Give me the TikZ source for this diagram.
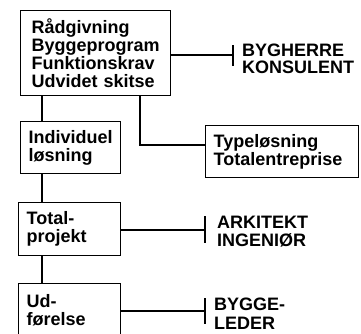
\documentclass[tikz,border=0pt]{standalone}
\usepackage{fontspec}
\setmainfont{Liberation Sans}
\tikzset{
  stage/.style={draw, line width=1.3pt, anchor=north west, align=left, inner xsep=8pt, inner ysep=0pt, font=\bfseries\fontsize{18}{18}\selectfont},
  actor/.style={anchor=west, align=left, inner sep=0pt, font=\bfseries\fontsize{18}{18}\selectfont},
  link/.style={line width=1.3pt}
}

\begin{document}
\begin{tikzpicture}[x=1pt,y=-1pt]
\useasboundingbox (0,0) rectangle (361,333);
\node[stage, inner xsep=11pt, text width=128pt, minimum height=85pt] (rad) at (20,10) {Rådgivning\\Byggeprogram\\Funktionskrav\\Udvidet skitse};
\node[stage, text width=84pt, minimum height=52pt] (ind) at (20,121) {Individuel\\løsning};
\node[stage, text width=137pt, minimum height=52pt] (type) at (205,125) {Typeløsning\\Totalentreprise};
\node[stage, text width=86pt, minimum height=53pt] (tot) at (18,202) {Total-\\projekt};
\node[stage, text width=86pt, minimum height=53pt] (udf) at (18,283) {Ud-\\førelse};
\coordinate (spine) at (42,0);
\coordinate (knee) at (140,145);
\coordinate (kons) at (233,55);
\coordinate (ark) at (205,230);
\coordinate (byg) at (205,311);
% main chain
\draw[link] (rad.south -| spine) -- (ind.north -| spine);
\draw[link] (ind.south -| spine) -- (tot.north -| spine);
\draw[link] (tot.south -| spine) -- (udf.north -| spine);
\draw[link] (rad.south -| knee) -- (knee) -- (type.west |- knee);
% roles
\draw[link] (rad.east |- kons) -- (kons);
\draw[link] ([yshift=10pt]kons) -- ([yshift=-11pt]kons);
\node[actor, font=\bfseries\fontsize{18}{17}\selectfont] (bygherre) at (242,59) {BYGHERRE\\KONSULENT};
\draw[link] (tot.east |- ark) -- (ark);
\draw[link] ([yshift=14pt]ark) -- ([yshift=-13pt]ark);
\node[actor] (arkitekt) at (217,232) {ARKITEKT\\INGENIØR};
\draw[link] (udf.east |- byg) -- (byg);
\draw[link] ([yshift=13pt]byg) -- ([yshift=-13pt]byg);
\node[actor, font=\bfseries\fontsize{18}{19}\selectfont] (bygge) at (214,314) {BYGGE-\\LEDER};
\end{tikzpicture}
\end{document}
